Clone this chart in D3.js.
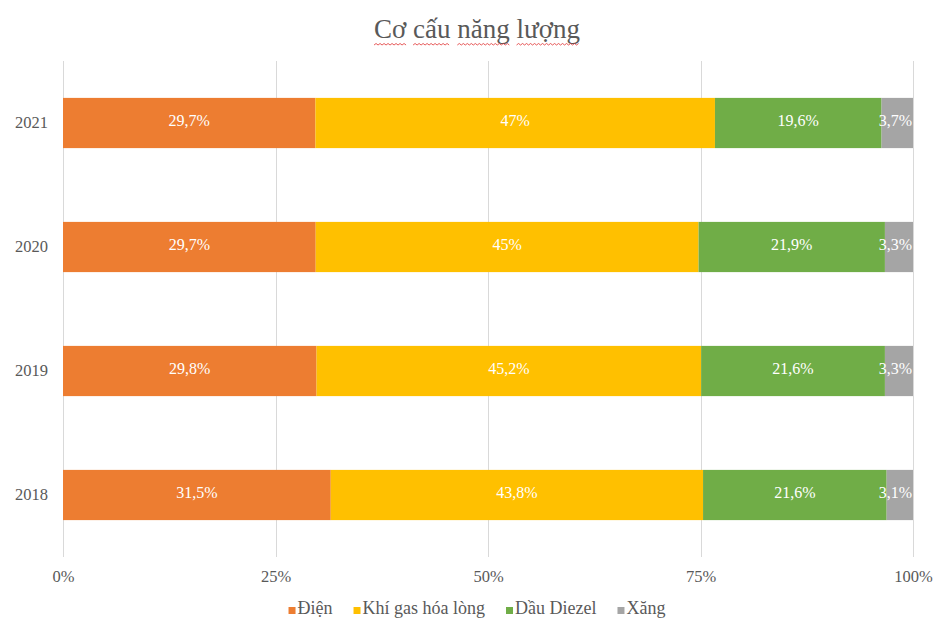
<!DOCTYPE html>
<html>
<head>
<meta charset="utf-8">
<script src="https://cdn.jsdelivr.net/npm/d3@7"></script>
<style>
  html, body { margin: 0; padding: 0; background: #fff; }
  svg { display: block; }
  svg text { font-family: "Liberation Serif", "Times New Roman", serif !important; }
</style>
</head>
<body>
<svg id="chart" width="936" height="620"></svg>
<script>
const title = "Cơ cấu năng lượng";
const years = ["2021", "2020", "2019", "2018"];
const seriesNames = ["Điện", "Khí gas hóa lòng", "Dầu Diezel", "Xăng"];
const seriesColors = ["#ED7D31", "#FFC000", "#70AD47", "#A5A5A5"];
const dien   = [29.7, 29.7, 29.8, 31.5];
const khiGas = [47, 45, 45.2, 43.8];
const dau    = [19.6, 21.9, 21.6, 21.6];
const xang   = [3.7, 3.3, 3.3, 3.1];
const labels = [
  ["29,7%", "29,7%", "29,8%", "31,5%"],
  ["47%", "45%", "45,2%", "43,8%"],
  ["19,6%", "21,9%", "21,6%", "21,6%"],
  ["3,7%", "3,3%", "3,3%", "3,1%"]
];
const xTicks = [0, 0.25, 0.5, 0.75, 1];
const xTickLabels = ["0%", "25%", "50%", "75%", "100%"];

const seriesValues = [dien, khiGas, dau, xang];

const svg = d3.select("#chart");
const W = 936, H = 620;
const margin = { left: 63, right: 23, top: 61, bottom: 63 };
const x = d3.scaleLinear().domain([0, 1]).range([margin.left, W - margin.right]);
const y = d3.scaleBand().domain(years).range([margin.top, H - margin.bottom]).paddingInner(0.595).paddingOuter(0.2975);

const textColor = "#595959";

// gridlines
svg.append("g").selectAll("line").data(xTicks).join("line")
  .attr("x1", d => Math.round(x(d)) + 0.5).attr("x2", d => Math.round(x(d)) + 0.5)
  .attr("y1", margin.top).attr("y2", H - margin.bottom)
  .attr("stroke", "#D9D9D9").attr("stroke-width", 1);

// x axis labels
const xAxis = d3.axisBottom(x).tickValues(xTicks).tickFormat((d, i) => xTickLabels[i]).tickSize(0).tickPadding(13);
const gx = svg.append("g").attr("transform", `translate(0,${H - margin.bottom})`).call(xAxis);
gx.select(".domain").remove();
gx.selectAll("text").attr("font-size", 16.5).attr("fill", textColor);

// y axis labels
const yAxis = d3.axisLeft(y).tickSize(0).tickPadding(15);
const gy = svg.append("g").attr("transform", `translate(${margin.left},0)`).call(yAxis);
gy.select(".domain").remove();
gy.selectAll("text").attr("font-size", 16.5).attr("fill", textColor);

// stacked normalized data
const rows = years.map((yr, i) => {
  const vals = seriesValues.map(s => s[i]);
  const total = d3.sum(vals);
  let acc = 0;
  return vals.map((v, k) => {
    const seg = { year: yr, k, x0: acc / total, x1: (acc + v) / total, label: labels[k][i] };
    acc += v;
    return seg;
  });
});
const segs = rows.flat();

svg.append("g").selectAll("rect").data(segs).join("rect")
  .attr("x", d => x(d.x0))
  .attr("width", d => x(d.x1) - x(d.x0))
  .attr("y", d => y(d.year))
  .attr("height", y.bandwidth())
  .attr("fill", d => seriesColors[d.k]);

const lbl = svg.append("g").selectAll("text").data(segs).join("text")
  .attr("y", d => y(d.year) + y.bandwidth() / 2 - 1)
  .attr("dominant-baseline", "middle")
  .attr("text-anchor", "middle")
  .attr("font-size", 16)
  .attr("fill", "#FFFFFF")
  .text(d => d.label);
lbl.each(function(d) {
  const w = this.getComputedTextLength();
  let cx = (x(d.x0) + x(d.x1)) / 2;
  const maxX = x(1) - w / 2 - 1;
  if (cx > maxX) cx = maxX;
  d3.select(this).attr("x", cx);
});

// title
const t = svg.append("text")
  .attr("x", 477).attr("y", 38)
  .attr("text-anchor", "middle")
  .attr("font-size", 27)
  .attr("fill", textColor)
  .text(title);

// wavy spell-check underline under each word
(function() {
  const node = t.node();
  const str = title;
  const bb = node.getBBox();
  const startX = bb.x;
  let idx = 0;
  const words = str.split(" ");
  words.forEach(w => {
    const s = str.indexOf(w, idx);
    const pre = s > 0 ? node.getSubStringLength(0, s) : 0;
    const len = node.getSubStringLength(s, w.length);
    idx = s + w.length;
    const x0 = startX + pre, x1 = x0 + len;
    const yb = 45;
    let p = `M${x0},${yb}`;
    let up = true;
    for (let xx = x0 + 2; xx <= x1; xx += 2) {
      p += ` L${xx},${up ? yb - 1.5 : yb}`;
      up = !up;
    }
    svg.append("path").attr("d", p).attr("fill", "none")
      .attr("stroke", "#E03030").attr("stroke-width", 0.8);
  });
})();

// legend
const legend = svg.append("g");
const legItems = legend.selectAll("g").data(seriesNames).join("g");
legItems.append("rect").attr("width", 7).attr("height", 7).attr("y", -7)
  .attr("fill", (d, i) => seriesColors[i]);
legItems.append("text").attr("x", 9).attr("y", 0)
  .attr("font-size", 18).attr("fill", textColor).text(d => d);
const gap = 21;
const widths = [];
legItems.each(function() { widths.push(this.getBBox().width); });
const totalW = d3.sum(widths) + gap * (widths.length - 1);
let lx = 0;
legItems.attr("transform", (d, i) => { const tr = `translate(${lx},0)`; lx += widths[i] + gap; return tr; });
legend.attr("transform", `translate(${(W - totalW) / 2 + 9},614)`);
</script>
</body>
</html>
